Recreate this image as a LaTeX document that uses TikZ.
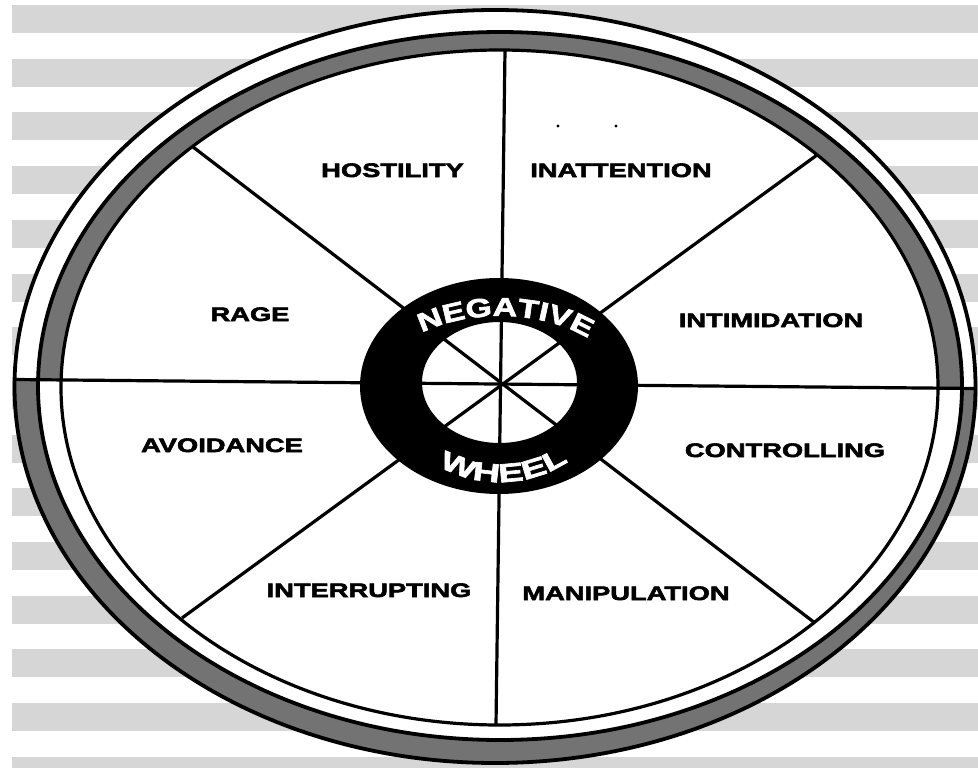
\documentclass[tikz,border=0pt]{standalone}
\usepackage{fontspec}
\setmainfont{Liberation Sans}
\newfontfamily\labfont[FakeStretch=1.40,FakeBold=3]{Liberation Sans}
\newfontfamily\hubfont[FakeStretch=1.3,FakeBold=2.5]{Liberation Sans}
\newfontfamily\wheelfont[FakeStretch=1.45,FakeBold=2.5]{Liberation Sans}
\usetikzlibrary{decorations.text}
\definecolor{bandgray}{gray}{0.45}
\definecolor{stripegray}{gray}{0.84}
\begin{document}
\begin{tikzpicture}[x=1pt,y=-1pt,
  lab/.style={inner sep=0pt, text height=14pt, text depth=0pt,
    font=\labfont\bfseries\fontsize{19.5}{20}\selectfont},
  rim/.style={line width=3.8pt},
  spoke/.style={line width=3.2pt}]
\useasboundingbox (0,0) rectangle (978,768);
\clip (0,0) rectangle (978,768);
% background stripes
\fill[white] (0,0) rectangle (978,768);
\foreach \k in {0,...,14}
  \fill[stripegray] (12,{5+53.7*\k}) rectangle (978,{33+53.7*\k});
% ring geometry
\coordinate (oc) at (495,386.5);
\coordinate (mc) at (500,386);
\coordinate (ic) at (499.5,387.5);
\fill[white] (oc) ellipse[x radius=480.5, y radius=376.5];
\begin{scope}
  \clip (0,0) -- (978,0) -- (978,388.5) -- (0,379.4) -- cycle;
  \fill[bandgray] (mc) ellipse[x radius=462, y radius=354];
  \fill[white] (ic) ellipse[x radius=438.5, y radius=337.5];
\end{scope}
\begin{scope}
  \clip (0,379.4) -- (978,388.5) -- (978,768) -- (0,768) -- cycle;
  \fill[bandgray] (oc) ellipse[x radius=480.5, y radius=376.5];
  \fill[white] (mc) ellipse[x radius=462, y radius=354];
\end{scope}
\draw[rim] (oc) ellipse[x radius=480.5, y radius=376.5];
\draw[rim] (mc) ellipse[x radius=462, y radius=354];
\draw[line width=3.2pt] (ic) ellipse[x radius=438.5, y radius=337.5];
% spokes
\coordinate (hl) at (14,379.5);
\coordinate (hr) at (976,388.5);
\coordinate (vt) at (505,50);
\coordinate (vb) at (496,725);
\coordinate (ul) at (193,147);
\coordinate (lr) at (815,623);
\coordinate (ur) at (817,155);
\coordinate (ll) at (182,618);
\draw[spoke] (hl) -- (hr);
\draw[spoke] (vt) -- (vb);
\draw[spoke] (ul) -- (lr);
\draw[spoke] (ur) -- (ll);
% hub
\coordinate (hub) at (500,386);
\fill[black, even odd rule] (499,386) ellipse[x radius=139, y radius=108]
  (499.5,382.5) ellipse[x radius=77.5, y radius=60.5];
\path[decorate, decoration={text along path, text align=center,
  text format delimiters={|}{|},
  text={|\hubfont\bfseries\fontsize{26}{26}\selectfont\color{white}|NEGATIVE}}]
  ([shift={(210:120 and 70)}]hub) arc[start angle=210, end angle=338, x radius=120, y radius=70];
\path[decorate, decoration={text along path, text align=center,
  text format delimiters={|}{|},
  text={|\wheelfont\bfseries\fontsize{26}{26}\selectfont\color{white}|WHEEL}}]
  ([shift={(145:110 and 96)}]hub) arc[start angle=145, end angle=30, x radius=110, y radius=96];
% scan dots
\fill (558,126) circle[radius=1.6];
\fill (616,126) circle[radius=1.6];
% labels
\node[lab] (hostility) at (392.5,170) {HOSTILITY};
\node[lab] (inattention) at (621,170) {INATTENTION};
\node[lab] (rage) at (250,314) {RAGE};
\node[lab] (intimidation) at (771,320) {INTIMIDATION};
\node[lab] (avoidance) at (222,445) {AVOIDANCE};
\node[lab] (controlling) at (785,450) {CONTROLLING};
\node[lab] (interrupting) at (369,590) {INTERRUPTING};
\node[lab] (manipulation) at (626,593) {MANIPULATION};
\end{tikzpicture}
\end{document}
